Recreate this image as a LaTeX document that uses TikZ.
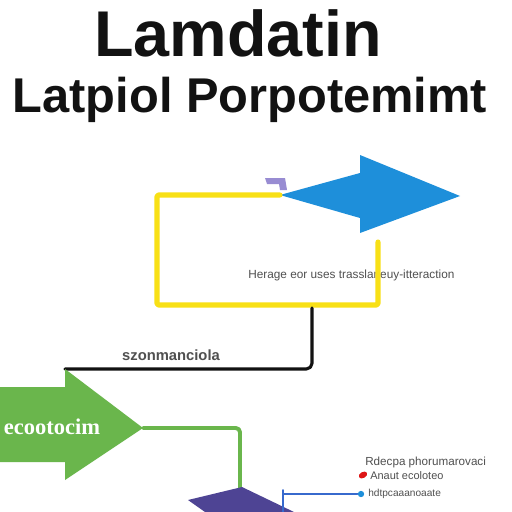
\documentclass[tikz,border=0pt]{standalone}
\usepackage{fontspec}
\setmainfont{Liberation Sans}
\newfontfamily\serifschrift{Liberation Serif}
\usetikzlibrary{positioning,calc}
\definecolor{fg}{RGB}{18,18,18}
\definecolor{mu}{RGB}{80,80,80}
\definecolor{gelb}{RGB}{248,224,22}
\definecolor{blau}{RGB}{30,143,218}
\definecolor{gruen}{RGB}{106,182,76}
\definecolor{lila}{RGB}{78,68,148}
\definecolor{flieder}{RGB}{152,140,210}
\definecolor{linie}{RGB}{55,105,205}
\definecolor{rot}{RGB}{222,22,22}
\tikzset{
  every picture/.style={fg, line cap=round, line join=round},
  % Linien
  frame/.style={gelb, line width=3.6pt, rounded corners=1pt},
  wire/.style={line width=2.2pt, rounded corners=4pt},
  gwire/.style={gruen, line width=2.8pt, rounded corners=3pt},
  bwire/.style={linie, line width=1.1pt},
  % Schrift
  titel/.style={font=\bfseries\fontsize{#1}{#1}\selectfont, inner sep=0pt, anchor=base},
  small/.style={mu, font=\fontsize{#1}{9}\selectfont, inner sep=0pt, anchor=west},
  small/.default=8,
  dot/.style={circle, fill=#1, inner sep=0pt, minimum size=4.5pt},
}

\begin{document}
\begin{tikzpicture}[x=0.025cm, y=-0.025cm]
  \fill[white] (0,0) rectangle (512,512);
  \useasboundingbox (0,0) rectangle (512,512);
  % Titel
  \node[titel=46] (kopf) at (238,57) {Lamdatin};
  \node[titel=34.7] (unterkopf) at (250,112) {Latpiol Porpotemimt};
  % blauer Pfeil
  \coordinate (blauSchwanz) at (280,195);
  \fill[blau] (blauSchwanz) -- (360,173) -- (360,155) -- (460,196) -- (360,233) -- (360,218) -- cycle;
  \fill[flieder] (265,178) -- (285,178) -- (287,190) -- (280,190) -- (279,184) -- (267,184) -- cycle;
  % gelber Rahmen
  \coordinate (rahmenEnde) at (378,242);
  \node[small=8.4] (hinweis) at (248,275) {Herage eor uses trasslaneuy-itteraction};
  \draw[frame] (blauSchwanz) -- (157,195) -- (157,305) -- (378,305) -- (rahmenEnde);
  % schwarze Verbindung
  \coordinate (rahmenUnten) at (312,308);
  \coordinate (gruenOben) at (65,369);
  \draw[wire] (rahmenUnten) -- (rahmenUnten |- gruenOben) -- (gruenOben);
  \node[mu, font=\bfseries\fontsize{10.5}{11}\selectfont, inner sep=0pt] (etikett) at (171,355) {szonmanciola};
  % gruener Pfeil
  \coordinate (gruenSpitze) at (143,428);
  \fill[gruen] (-5,387) -- (65,387) -- (gruenOben) -- (gruenSpitze) -- (65,480) -- (65,462) -- (-5,462) -- cycle;
  \node[white, font=\serifschrift\bfseries\fontsize{16}{17}\selectfont, inner sep=0pt] (marke) at (52,427) {ecootocim};
  \coordinate (lilaOben) at (240,488);
  \draw[gwire] (gruenSpitze) -- (gruenSpitze -| lilaOben) -- (lilaOben);
  % lila Form
  \fill[lila] (188,500) -- (242,487) -- (294,512) -- (205,512) -- cycle;
  % Legende
  \node[small=8.3] (liste1) at (365,462) {Rdecpa phorumarovaci};
  \node[small=7.8] (liste2) at (370,476) {Anaut ecoloteo};
  \node[small=7.2] (liste3) at (368,494) {hdtpcaaanoaate};
  \fill[rot, rotate around={30:(363,475)}] (363,475) ellipse [x radius=4.5, y radius=3];
  \node[dot=blau] (punkt) at (361,494) {};
  \coordinate (stiel) at (283,490);
  \draw[bwire] (stiel) -- (283,512);
  \draw[bwire] (283,494) -- (punkt);
\end{tikzpicture}
\end{document}
